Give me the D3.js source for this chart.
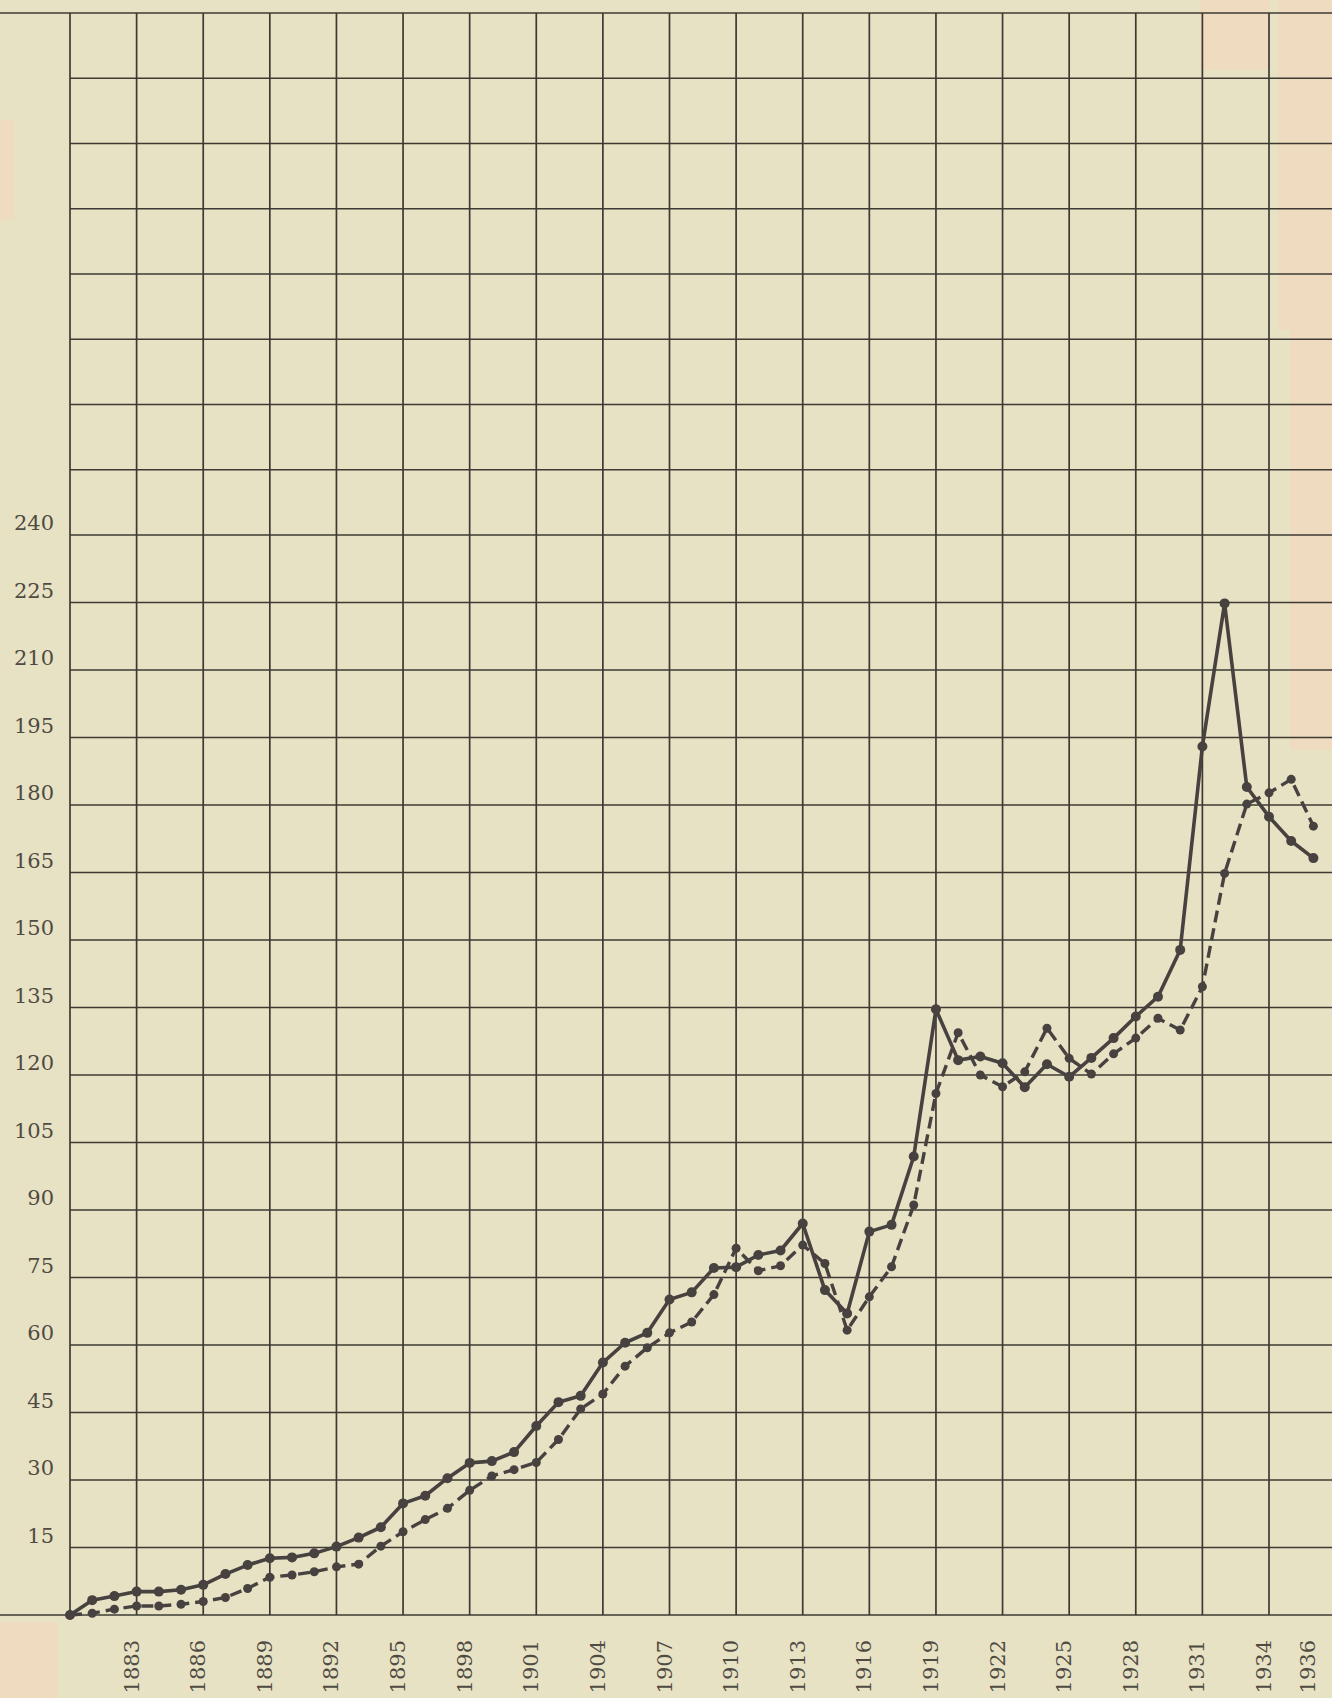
<!DOCTYPE html>
<html>
<head>
<meta charset="utf-8">
<script src="https://cdn.jsdelivr.net/npm/d3@7/dist/d3.min.js"></script>
<style>
  body { margin: 0; background: #e7e1c3; }
  svg { display: block; }
</style>
</head>
<body>
<svg></svg>
<script>
// Years plotted (one point per year)
const years = [1880, 1881, 1882, 1883, 1884, 1885, 1886, 1887, 1888, 1889,
  1890, 1891, 1892, 1893, 1894, 1895, 1896, 1897, 1898, 1899,
  1900, 1901, 1902, 1903, 1904, 1905, 1906, 1907, 1908, 1909,
  1910, 1911, 1912, 1913, 1914, 1915, 1916, 1917, 1918, 1919,
  1920, 1921, 1922, 1923, 1924, 1925, 1926, 1927, 1928, 1929,
  1930, 1931, 1932, 1933, 1934, 1935, 1936];

// Solid series
const solidValues = [0, 3.3, 4.2, 5.2, 5.2, 5.6, 6.7, 9.1, 11.1, 12.6,
  12.8, 13.7, 15.2, 17.2, 19.5, 24.8, 26.5, 30.4, 33.8, 34.2,
  36.2, 42.0, 47.3, 48.7, 56.1, 60.5, 62.7, 70.1, 71.7, 77.1,
  77.3, 80.0, 81.0, 87.0, 72.2, 67.0, 85.2, 86.7, 101.9, 134.6,
  123.3, 124.1, 122.6, 117.3, 122.4, 119.6, 123.8, 128.2, 133.0, 137.4,
  147.8, 193.0, 224.8, 184.0, 177.4, 172.0, 168.2];

// Dashed series
const dashedValues = [0, 0.4, 1.3, 2.0, 2.0, 2.4, 3.0, 3.9, 5.9, 8.4,
  8.9, 9.6, 10.7, 11.3, 15.3, 18.5, 21.2, 23.7, 27.7, 30.9,
  32.3, 33.9, 39.0, 45.8, 49.1, 55.3, 59.4, 62.7, 65.1, 71.2,
  81.5, 76.5, 77.6, 82.2, 78.1, 63.3, 70.7, 77.4, 91.1, 115.9,
  129.4, 120.0, 117.4, 120.7, 130.4, 123.7, 120.2, 124.7, 128.2, 132.6,
  130.0, 139.6, 164.8, 180.2, 182.7, 185.7, 175.3];

// Labelled values on the left
const yTickLabels = [15, 30, 45, 60, 75, 90, 105, 120, 135, 150, 165, 180, 195, 210, 225, 240];
// Grid rows continue above the labels
const yGridValues = [15, 30, 45, 60, 75, 90, 105, 120, 135, 150, 165, 180, 195, 210, 225, 240,
  255, 270, 285, 300, 315, 330, 345, 360];
// Year labels under the grid
const xTickLabels = [1883, 1886, 1889, 1892, 1895, 1898, 1901, 1904, 1907, 1910, 1913,
  1916, 1919, 1922, 1925, 1928, 1931, 1934, 1936];
// Grid columns every three years
const xGridYears = [1880, 1883, 1886, 1889, 1892, 1895, 1898, 1901, 1904, 1907, 1910,
  1913, 1916, 1919, 1922, 1925, 1928, 1931, 1934];

function drawChart() {
  const width = 1332;
  const height = 1698;
  const ink = '#3d3a33';
  const lineInk = '#47423f';
  const font = '"DejaVu Serif", "Liberation Serif", serif';

  const svg = d3.select('svg')
    .attr('width', width)
    .attr('height', height);

  // Paper
  svg.append('rect')
    .attr('width', width)
    .attr('height', height)
    .attr('fill', '#e8e2c5');

  // Faint peach stains of the scan
  const stains = [[1278, 0, 54, 330], [1290, 330, 42, 420], [1200, 0, 70, 70],
    [0, 120, 14, 100], [0, 1622, 58, 76]];
  svg.selectAll('rect.stain')
    .data(stains)
    .enter()
    .append('rect')
    .attr('class', 'stain')
    .attr('x', d => d[0]).attr('y', d => d[1])
    .attr('width', d => d[2]).attr('height', d => d[3])
    .attr('fill', '#f3d6bc')
    .attr('opacity', 0.55);

  // Scales (grid is slightly tighter above 240 on the sheet)
  const x = d3.scaleLinear()
    .domain([1880, 1934])
    .range([70, 1269]);
  const y = d3.scaleLinear()
    .domain([0, 240, 360])
    .range([1615, 535, 13]);

  const grid = svg.append('g')
    .attr('stroke', ink)
    .attr('stroke-width', 1.7);

  // Horizontal rules
  grid.selectAll('line.h')
    .data(yGridValues)
    .enter()
    .append('line')
    .attr('class', 'h')
    .attr('x1', d => d === 360 ? 0 : x(1880))
    .attr('x2', width)
    .attr('y1', d => y(d))
    .attr('y2', d => y(d));

  // Base line runs to the left edge
  grid.append('line')
    .attr('x1', 0).attr('x2', width)
    .attr('y1', y(0)).attr('y2', y(0));

  // Vertical rules
  grid.selectAll('line.v')
    .data(xGridYears)
    .enter()
    .append('line')
    .attr('class', 'v')
    .attr('x1', d => x(d)).attr('x2', d => x(d))
    .attr('y1', y(360)).attr('y2', y(0));

  // Left labels sit just above their rule
  svg.append('g')
    .selectAll('text')
    .data(yTickLabels)
    .enter()
    .append('text')
    .attr('x', 54)
    .attr('y', d => y(d) - 5)
    .attr('text-anchor', 'end')
    .attr('font-family', font)
    .attr('font-size', 21)
    .attr('fill', '#4f4b42')
    .text(d => d);

  // Year labels, rotated
  svg.append('g')
    .selectAll('text')
    .data(xTickLabels)
    .enter()
    .append('text')
    .attr('transform', d => `translate(${x(d) + 2}, 1640) rotate(-90)`)
    .attr('text-anchor', 'end')
    .attr('font-family', font)
    .attr('font-size', 21)
    .attr('fill', '#4f4b42')
    .text(d => d);

  const solid = years.map((yr, i) => [yr, solidValues[i]]);
  const dashed = years.map((yr, i) => [yr, dashedValues[i]]);

  const line = d3.line()
    .x(d => x(d[0]))
    .y(d => y(d[1]));

  // Dashed series
  svg.append('path')
    .datum(dashed)
    .attr('d', line)
    .attr('fill', 'none')
    .attr('stroke', lineInk)
    .attr('stroke-width', 3.4)
    .attr('stroke-dasharray', '12,6')
    .attr('stroke-linejoin', 'round');

  svg.append('g')
    .selectAll('circle')
    .data(dashed)
    .enter()
    .append('circle')
    .attr('cx', d => x(d[0]))
    .attr('cy', d => y(d[1]))
    .attr('r', 4.5)
    .attr('fill', lineInk);

  // Solid series
  svg.append('path')
    .datum(solid)
    .attr('d', line)
    .attr('fill', 'none')
    .attr('stroke', lineInk)
    .attr('stroke-width', 3.6)
    .attr('stroke-linejoin', 'round');

  svg.append('g')
    .selectAll('circle')
    .data(solid)
    .enter()
    .append('circle')
    .attr('cx', d => x(d[0]))
    .attr('cy', d => y(d[1]))
    .attr('r', 5)
    .attr('fill', lineInk);
}

drawChart();
</script>
</body>
</html>
